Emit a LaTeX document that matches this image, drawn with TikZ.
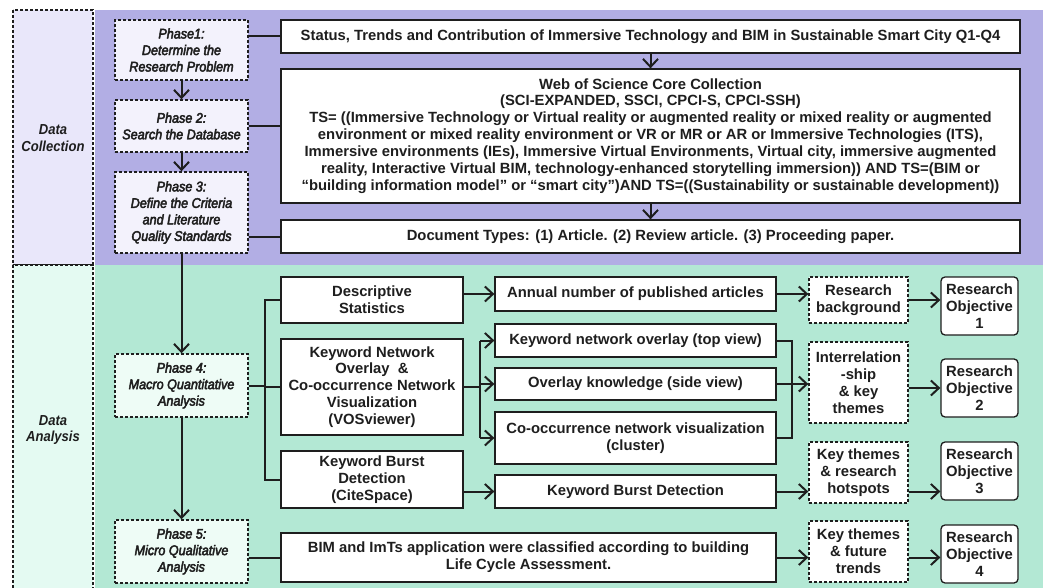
\documentclass[tikz,border=0pt]{standalone}
\usepackage{fontspec}
\setmainfont{Liberation Sans}
\newfontfamily\phaseit[FakeStretch=0.9]{Liberation Sans Italic}
\newfontfamily\sideit[FakeStretch=0.9]{Liberation Sans Bold Italic}
\usetikzlibrary{arrows.meta}
\definecolor{bandpurple}{RGB}{178,174,228}
\definecolor{bandgreen}{RGB}{179,232,212}
\definecolor{sidepurple}{RGB}{233,231,250}
\definecolor{sidegreen}{RGB}{228,250,242}
\definecolor{phasepurple}{RGB}{243,242,252}
\definecolor{phasegreen}{RGB}{238,252,246}
\definecolor{ink}{RGB}{30,30,30}
% heavier glyph outlines for the phase captions (fill + stroke render mode)
\newcommand{\heavyon}{\special{pdf:literal 2 Tr 0.45 w}}
\newcommand{\heavyoff}{\special{pdf:literal 0 Tr}}
\tikzset{
  txt/.style={font=\bfseries\fontsize{14.8}{16.9}\selectfont, align=center, text=ink},
  solidbox/.style={txt, draw=ink, line width=1.3pt, fill=white, inner sep=0pt},
  dashbox/.style={txt, draw=ink, line width=1.4pt, dash pattern=on 3pt off 2pt, fill=white, inner sep=0pt},
  objbox/.style={solidbox, rounded corners=4pt},
  phasebox/.style={draw=ink, line width=1.4pt, dash pattern=on 3pt off 2pt, inner sep=0pt,
    align=center, text=ink, font=\phaseit\fontsize{14}{16.5}\selectfont},
  sidelabel/.style={font=\sideit\fontsize{14.5}{16.5}\selectfont, align=center, text=ink},
  link/.style={draw=ink, line width=2pt},
  arr/.style={link, -{Straight Barb[length=8pt,width=15pt,line width=2pt]}},
}
\begin{document}
\begin{tikzpicture}[x=1pt,y=-1pt]
\useasboundingbox (0,0) rectangle (1051,588);
\fill[white] (0,0) rectangle (1051,588);
% coloured bands
\fill[bandpurple] (95,10) rectangle (1043,265);
\fill[bandgreen] (95,265) rectangle (1043,595);
% side labels
\draw[fill=sidepurple, draw=ink, line width=1.4pt, dash pattern=on 3pt off 2pt] (13,10) rectangle (93,265);
\draw[fill=sidegreen, draw=ink, line width=1.4pt, dash pattern=on 3pt off 2pt] (13,265) rectangle (93,600);
\node[sidelabel] (dc) at (53,138) {Data\\Collection};
\node[sidelabel] (da) at (53,430) {Data\\Analysis};

% phase boxes
\node[phasebox, fill=phasepurple, minimum width=133pt, minimum height=60pt] (p1) at (181.5,50) {\heavyon Phase1:\\\heavyon Determine the\\\heavyon Research Problem\heavyoff};
\node[phasebox, fill=phasepurple, minimum width=133pt, minimum height=52pt] (p2) at (181.5,126) {\heavyon Phase 2:\\\heavyon Search the Database\heavyoff};
\node[phasebox, fill=phasepurple, minimum width=133pt, minimum height=81pt] (p3) at (181.5,212.5) {\heavyon Phase 3:\\\heavyon Define the Criteria\\\heavyon and Literature\\\heavyon Quality Standards\heavyoff};
\node[phasebox, fill=phasegreen, minimum width=133pt, minimum height=63pt] (p4) at (181.5,385.5) {\heavyon Phase 4:\\\heavyon Macro Quantitative\\\heavyon Analysis\heavyoff};
\node[phasebox, fill=phasegreen, minimum width=133pt, minimum height=63pt] (p5) at (181.5,551.5) {\heavyon Phase 5:\\\heavyon Micro Qualitative\\\heavyon Analysis\heavyoff};

% data collection boxes
\node[solidbox, minimum width=739pt, minimum height=33pt] (status) at (650.5,36.5) {Status, Trends and Contribution of Immersive Technology and BIM in Sustainable Smart City Q1-Q4};
\node[solidbox, minimum width=739pt, minimum height=134pt] (wos) at (650.5,136) {Web of Science Core Collection\\(SCI-EXPANDED, SSCI, CPCI-S, CPCI-SSH)\\TS= ((Immersive Technology or Virtual reality or augmented reality or mixed reality or augmented\\environment or mixed reality environment or VR or MR or AR or Immersive Technologies (ITS),\\Immersive environments (IEs), Immersive Virtual Environments, Virtual city, immersive augmented\\reality, Interactive Virtual BIM, technology-enhanced storytelling immersion)) AND TS=(BIM or\\“building information model” or “smart city”)AND TS=((Sustainability or sustainable development))};
\node[solidbox, minimum width=739pt, minimum height=33pt] (doct) at (650.5,236.5) {Document Types: (1) Article. (2) Review article. (3) Proceeding paper.};

% analysis methods
\node[solidbox, minimum width=182pt, minimum height=46pt] (desc) at (372,300) {Descriptive\\Statistics};
\node[solidbox, minimum width=182pt, minimum height=96pt] (kn) at (372,387) {Keyword Network\\Overlay \ \&\\Co-occurrence Network\\Visualization\\(VOSviewer)};
\node[solidbox, minimum width=182pt, minimum height=57pt] (kb) at (372,479.5) {Keyword Burst\\Detection\\(CiteSpace)};
\node[solidbox, minimum width=495pt, minimum height=49pt] (bim) at (528.5,557.5) {BIM and ImTs application were classified according to building\\Life Cycle Assessment.};

% outputs
\node[solidbox, minimum width=281pt, minimum height=34pt] (annual) at (635.5,294) {Annual number of published articles};
\node[solidbox, minimum width=281pt, minimum height=33pt] (topv) at (635.5,340.5) {Keyword network overlay (top view)};
\node[solidbox, minimum width=281pt, minimum height=32pt] (sidev) at (635.5,384) {Overlay knowledge (side view)};
\node[solidbox, minimum width=281pt, minimum height=52pt] (cooc) at (635.5,438) {Co-occurrence network visualization\\(cluster)};
\node[solidbox, minimum width=281pt, minimum height=33pt] (burst) at (635.5,491.5) {Keyword Burst Detection};

% findings
\node[dashbox, minimum width=99pt, minimum height=46pt] (rb) at (858.5,300) {Research\\background};
\node[dashbox, minimum width=99pt, minimum height=81pt] (ir) at (858.5,382.5) {Interrelation\\-ship\\\& key\\themes};
\node[dashbox, minimum width=99pt, minimum height=61pt] (kt1) at (858.5,472.5) {Key themes\\\& research\\hotspots};
\node[dashbox, minimum width=99pt, minimum height=61pt] (kt2) at (858.5,551.5) {Key themes\\\& future\\trends};

% objectives
\node[objbox, minimum width=77pt, minimum height=58pt] (ro1) at (979.5,306) {Research\\Objective\\1};
\node[objbox, minimum width=77pt, minimum height=58pt] (ro2) at (979.5,388) {Research\\Objective\\2};
\node[objbox, minimum width=77pt, minimum height=58pt] (ro3) at (979.5,471) {Research\\Objective\\3};
\node[objbox, minimum width=77pt, minimum height=58pt] (ro4) at (979.5,554) {Research\\Objective\\4};

% phase chain
\draw[arr] (p1) -- (p2);
\draw[arr] (p2) -- (p3);
\draw[arr] (p3) -- (p4);
\draw[arr] (p4) -- (p5);

% data collection links
\draw[link] (status.west -| p1.east) -- (status.west);
\draw[link] (p2.east) -- (p2.east -| wos.west);
\draw[link] (doct.west -| p3.east) -- (doct.west);
\draw[arr] (status) -- (wos);
\draw[arr] (wos) -- (doct);

% phase 4 bracket
\coordinate (br) at (265,385.5);
\draw[link] (p4.east) -- (br);
\draw[link] (desc.west) -| (br) |- (kb.west);
\draw[link] (kn.west) -- (kn.west -| br);

% methods to outputs
\draw[arr] (desc.east |- annual.west) -- (annual.west);
\coordinate (fk) at (480,387);
\draw[link] (kn.east) -- (fk);
\draw[arr] (fk |- topv.west) |- (topv.west);
\draw[link] (fk |- topv.west) -- (fk |- cooc.west);
\draw[arr] (fk |- sidev.west) -- (sidev.west);
\draw[arr] (fk |- cooc.west) -- (cooc.west);
\draw[arr] (kb.east |- burst.west) -- (burst.west);
\draw[link] (bim.west -| p5.east) -- (bim.west);

% outputs to findings
\draw[arr] (annual.east) -- (annual.east -| rb.west);
\coordinate (mg) at (792,384);
\draw[link] (topv.east) -| (mg) |- (cooc.east);
\draw[arr] (sidev.east) -- (sidev.east -| ir.west);
\draw[arr] (burst.east) -- (burst.east -| kt1.west);
\draw[arr] (bim.east) -- (bim.east -| kt2.west);

% findings to objectives
\draw[arr] (rb.east) -- (rb.east -| ro1.west);
\draw[arr] (ro2.west -| ir.east) -- (ro2.west);
\draw[arr] (burst.east -| kt1.east) -- (burst.east -| ro3.west);
\draw[arr] (bim.east -| kt2.east) -- (bim.east -| ro4.west);
\end{tikzpicture}
\end{document}
